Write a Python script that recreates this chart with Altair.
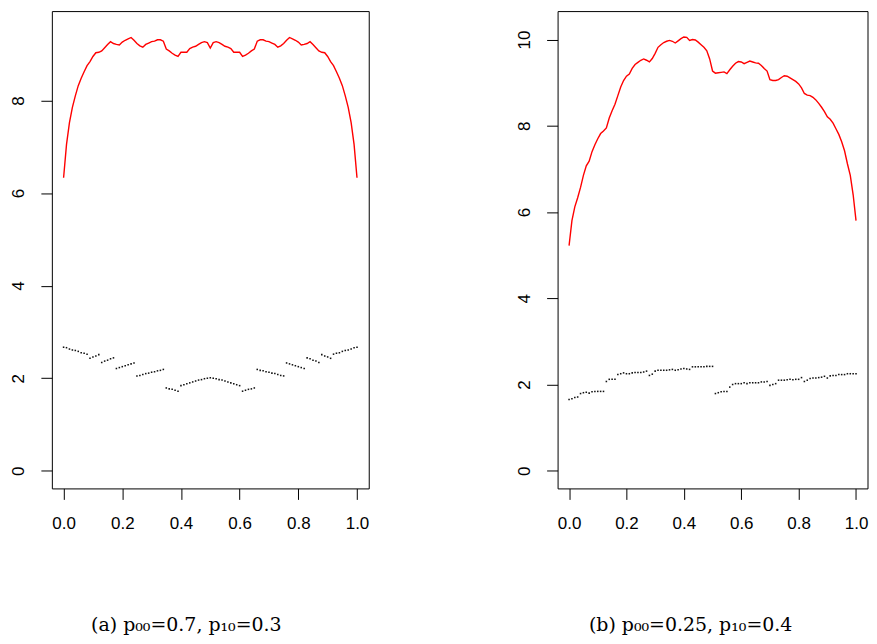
import altair as alt
import pandas as pd

# x grid (p values)
t_values = [i / 100 for i in range(101)]

# Panel (a): p00=0.7, p10=0.3
red_a = [6.33, 7.05, 7.52, 7.85, 8.10, 8.32, 8.48, 8.62, 8.75, 8.84,
         8.95, 9.03, 9.04, 9.07, 9.14, 9.21, 9.27, 9.23, 9.21, 9.20,
         9.26, 9.30, 9.33, 9.36, 9.30, 9.23, 9.18, 9.15, 9.21, 9.24,
         9.27, 9.28, 9.31, 9.31, 9.28, 9.11, 9.07, 9.02, 8.98, 8.95,
         9.04, 9.04, 9.04, 9.12, 9.15, 9.17, 9.21, 9.25, 9.27, 9.25,
         9.13,
         9.25, 9.27, 9.25, 9.21, 9.17, 9.15, 9.12, 9.04, 9.04, 9.04,
         8.95, 8.98, 9.02, 9.07, 9.11, 9.28, 9.31, 9.31, 9.28, 9.27,
         9.24, 9.21, 9.15, 9.18, 9.23, 9.30, 9.36, 9.33, 9.30, 9.26,
         9.20, 9.21, 9.23, 9.27, 9.21, 9.14, 9.07, 9.04, 9.03, 8.95,
         8.84, 8.75, 8.62, 8.48, 8.32, 8.10, 7.85, 7.52, 7.05, 6.33]
black_a = [2.67, 2.66, 2.63, 2.61, 2.60, 2.58, 2.55, 2.54, 2.52,
           2.43, 2.46, 2.48, 2.51,
           2.34, 2.37, 2.39, 2.42, 2.44,
           2.21, 2.23, 2.25, 2.27, 2.29, 2.31, 2.33,
           2.05, 2.06, 2.08, 2.10, 2.11, 2.13, 2.14, 2.16, 2.17, 2.19,
           1.79, 1.77, 1.76, 1.74, 1.72,
           1.84, 1.86, 1.88, 1.90, 1.92, 1.94, 1.96, 1.97, 1.99, 2.00, 2.01,
           2.00, 1.99, 1.97, 1.96, 1.94, 1.92, 1.90, 1.88, 1.86, 1.84,
           1.72, 1.74, 1.76, 1.77, 1.79,
           2.19, 2.17, 2.16, 2.14, 2.13, 2.11, 2.10, 2.08, 2.06, 2.05,
           2.33, 2.31, 2.29, 2.27, 2.25, 2.23, 2.21,
           2.44, 2.42, 2.39, 2.37, 2.34,
           2.51, 2.48, 2.46, 2.43,
           2.52, 2.54, 2.55, 2.58, 2.60, 2.61, 2.63, 2.66, 2.67]

# Panel (b): p00=0.25, p10=0.4
red_b = [5.22, 5.80, 6.12, 6.33, 6.57, 6.85, 7.07, 7.18, 7.40, 7.56,
         7.70, 7.82, 7.88, 7.95, 8.18, 8.35, 8.50, 8.70, 8.90, 9.05,
         9.15, 9.20, 9.33, 9.42, 9.47, 9.52, 9.55, 9.52, 9.48, 9.56,
         9.68, 9.82, 9.88, 9.93, 9.96, 9.98, 9.96, 9.92, 9.97, 10.02,
         10.06, 10.05, 9.98, 10.00, 9.99, 9.94, 9.88, 9.82, 9.74, 9.55,
         9.27, 9.22, 9.23, 9.24, 9.25, 9.21, 9.30, 9.38, 9.45, 9.49,
         9.48, 9.44, 9.47, 9.50, 9.48, 9.46, 9.45, 9.40, 9.33, 9.27,
         9.07, 9.05, 9.05, 9.07, 9.12, 9.16, 9.15, 9.11, 9.07, 9.03,
         8.97, 8.88, 8.75, 8.71, 8.70, 8.66, 8.60, 8.52, 8.43, 8.33,
         8.21, 8.15, 8.06, 7.93, 7.80, 7.63, 7.42, 7.12, 6.85, 6.40, 5.80]
black_b = [1.65, 1.67, 1.70, 1.71,
           1.79, 1.81, 1.82,
           1.80, 1.83, 1.84, 1.84, 1.84, 1.84,
           2.07, 2.12, 2.12, 2.12,
           2.23, 2.25, 2.27, 2.25, 2.25, 2.27, 2.28, 2.28, 2.28, 2.29, 2.31,
           2.21, 2.24,
           2.31, 2.33, 2.33, 2.33, 2.33, 2.34, 2.35, 2.33, 2.34, 2.36, 2.37, 2.36, 2.35,
           2.41, 2.41, 2.41, 2.41, 2.41, 2.42, 2.42, 2.42,
           1.79, 1.81, 1.83, 1.84, 1.84,
           1.94, 2.00, 2.02, 2.02, 2.02, 2.04, 2.02, 2.04, 2.04, 2.04, 2.04, 2.06, 2.06, 2.07,
           1.98, 2.00, 2.02,
           2.10, 2.10, 2.10, 2.11, 2.12, 2.11, 2.12, 2.12, 2.16,
           2.07, 2.10, 2.14, 2.15, 2.15, 2.16, 2.17, 2.19,
           2.15,
           2.20, 2.21, 2.21, 2.23, 2.23, 2.23, 2.25, 2.25, 2.25, 2.25]

x_ticks = [0.0, 0.2, 0.4, 0.6, 0.8, 1.0]
y_ticks_a = [0, 2, 4, 6, 8]
y_ticks_b = [0, 2, 4, 6, 8, 10]
caption_a = "(a) p\u2080\u2080=0.7, p\u2081\u2080=0.3"
caption_b = "(b) p\u2080\u2080=0.25, p\u2081\u2080=0.4"

LABEL_FONT = "Liberation Sans"


def panel(red, black, ydomain, yticks, caption, width, cap_dx):
    df_red = pd.DataFrame({"p": t_values, "v": red})
    df_blk = pd.DataFrame({"p": t_values, "v": black})
    xs = alt.Scale(domain=[-0.04, 1.04], nice=False, zero=False)
    ys = alt.Scale(domain=ydomain, nice=False, zero=False)
    xaxis = alt.Axis(values=x_ticks, format=".1f", title=None, grid=False,
                     domain=False, tickSize=11, tickColor="black", tickWidth=1,
                     labelPadding=16, labelFont=LABEL_FONT, labelFontSize=17,
                     labelColor="black", labelFlush=False)
    yaxis = alt.Axis(values=yticks, format="d", title=None, grid=False,
                     domain=False, tickSize=11, tickColor="black", tickWidth=1,
                     labelAngle=270, labelAlign="center", labelBaseline="bottom",
                     labelPadding=13, labelFont=LABEL_FONT, labelFontSize=17,
                     labelColor="black", labelFlush=False,
                     minExtent=43, maxExtent=43)
    line = alt.Chart(df_red).mark_line(color="#ff0000", strokeWidth=1.4).encode(
        x=alt.X("p:Q", scale=xs, axis=xaxis),
        y=alt.Y("v:Q", scale=ys, axis=yaxis),
    )
    dots = alt.Chart(df_blk).mark_square(color="#111111", size=2.4, opacity=1).encode(
        x=alt.X("p:Q", scale=xs),
        y=alt.Y("v:Q", scale=ys),
    )
    return alt.layer(line, dots).properties(
        width=width, height=479,
        title=alt.TitleParams(caption, orient="bottom", anchor="middle",
                              font="DejaVu Serif", fontSize=19, dx=cap_dx,
                              fontWeight="normal", color="black", offset=85),
    )


left = panel(red_a, black_a, [-0.38, 9.93], y_ticks_a, caption_a, 318, -24)
right = panel(red_b, black_b, [-0.41, 10.66], y_ticks_b, caption_b, 311, -22)

chart = alt.hconcat(left, right, spacing=144.5).properties(
    padding={"left": 0, "top": 1, "right": 0, "bottom": 0}
).configure(background="white").configure_view(stroke="black", strokeWidth=1)

chart.save("out.html", embed_options={"renderer": "svg", "actions": False})
